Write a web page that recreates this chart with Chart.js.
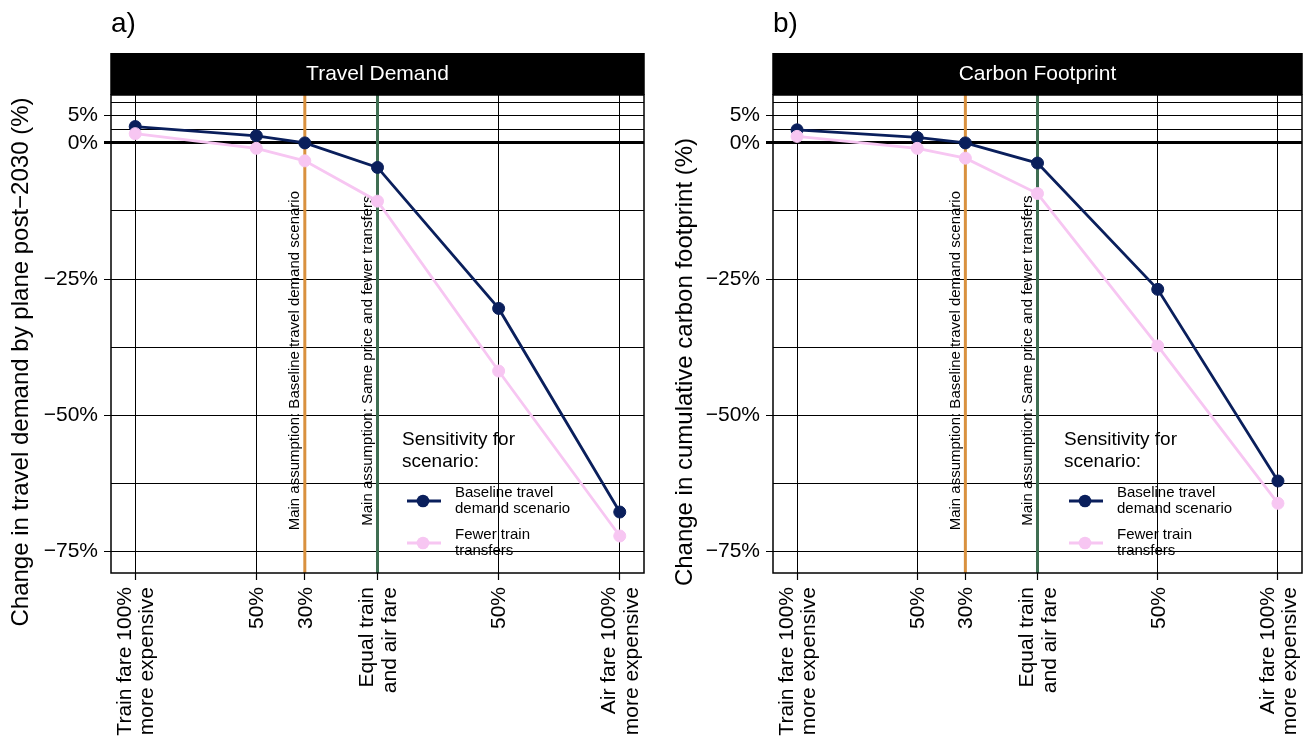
<!DOCTYPE html>
<html><head><meta charset="utf-8">
<script src="https://cdn.jsdelivr.net/npm/chart.js@4.4.1/dist/chart.umd.min.js"></script>
<style>
html,body{margin:0;padding:0;background:#fff;}
#wrap{position:relative;width:1309px;height:742px;overflow:hidden;background:#fff;}
canvas{position:absolute;top:0;}
</style></head><body>
<div id="wrap">
<canvas id="cA" width="655" height="742" style="left:0px"></canvas>
<canvas id="cB" width="654" height="742" style="left:655px"></canvas>
</div>
<script>
// ---- data ----
const xValues = [-100, -50, -30, 0, 50, 100];
const xTickLabels = [["Train fare 100%","more expensive"],["50%"],["30%"],["Equal train","and air fare"],["50%"],["Air fare 100%","more expensive"]];
const yMajorTicks = [-75, -50, -25, 0, 5];
const yMinorTicks = [-62.5, -37.5, -12.5, 2.5, 7.5];
const demandBaseline = [3.0, 1.3, 0, -4.5, -30.4, -67.8];
const demandFewerTransfers = [1.7, -1.0, -3.3, -10.7, -41.9, -72.2];
const carbonBaseline = [2.4, 1.0, 0, -3.7, -26.9, -62.1];
const carbonFewerTransfers = [1.2, -1.0, -2.8, -9.3, -37.3, -66.2];
const seriesNames = [["Baseline travel","demand scenario"],["Fewer train","transfers"]];
const legendTitle = ["Sensitivity for","scenario:"];
const assumptionX = [-30, 0];
const assumptionLabels = ["Main assumption: Baseline travel demand scenario","Main assumption: Same price and fewer transfers"];
const assumptionLabelY = -40;
const panelTitles = ["Travel Demand", "Carbon Footprint"];
const panelTags = ["a)", "b)"];
const yTitles = ["Change in travel demand by plane post\u22122030 (%)", "Change in cumulative carbon footprint (%)"];

// ---- style ----
const NAVY = '#0a1f5c', PINK = '#f7c6f2', ORANGE = '#d9913f', GREEN = '#3f6e52';
const X_MIN = -110, X_MAX = 110, Y_MIN = -79, Y_MAX = 8.8;
const FONT = '"Liberation Sans", Arial, Helvetica, sans-serif';
Chart.defaults.font.family = FONT;

function fmtPct(v){ return (v < 0 ? '\u2212' : '') + Math.abs(v) + '%'; }

function decor(p){
  return {
    id: 'decor' + p.idx,
    beforeDatasetsDraw(chart){
      const ctx = chart.ctx, xs = chart.scales.x, ys = chart.scales.y;
      ctx.save();
      ctx.fillStyle = '#000';
      ctx.font = '15px ' + FONT;
      ctx.textAlign = 'center';
      ctx.textBaseline = 'middle';
      assumptionX.forEach((xv, i) => {
        const px = xs.getPixelForValue(xv) - 9.5;
        const py = ys.getPixelForValue(assumptionLabelY);
        ctx.save();
        ctx.translate(px, py);
        ctx.rotate(-Math.PI / 2);
        ctx.fillText(assumptionLabels[i], 0, 0);
        ctx.restore();
      });
      ctx.restore();
    },
    afterDraw(chart){
      const ctx = chart.ctx, a = chart.chartArea, xs = chart.scales.x;
      ctx.save();
      // panel border
      ctx.strokeStyle = '#000';
      ctx.lineWidth = 1.5;
      ctx.strokeRect(a.left, a.top, a.right - a.left, a.bottom - a.top);
      // strip
      ctx.fillStyle = '#000';
      ctx.fillRect(a.left - 0.75, 53, a.right - a.left + 1.5, a.top - 53);
      ctx.fillStyle = '#fff';
      ctx.font = '21px ' + FONT;
      ctx.textAlign = 'center';
      ctx.textBaseline = 'middle';
      ctx.fillText(panelTitles[p.idx], (a.left + a.right) / 2, 74);
      // tag
      ctx.fillStyle = '#000';
      ctx.font = '28px ' + FONT;
      ctx.textAlign = 'left';
      ctx.textBaseline = 'alphabetic';
      ctx.fillText(panelTags[p.idx], a.left, 32);
      // y title
      ctx.save();
      ctx.font = '24px ' + FONT;
      ctx.textAlign = 'center';
      ctx.textBaseline = 'middle';
      ctx.translate(p.yTitleX, 362);
      ctx.rotate(-Math.PI / 2);
      ctx.fillText(yTitles[p.idx], 0, 0);
      ctx.restore();
      // x tick labels
      ctx.font = '21px ' + FONT;
      ctx.textAlign = 'right';
      ctx.textBaseline = 'middle';
      xValues.forEach((xv, i) => {
        const px = xs.getPixelForValue(xv);
        const lines = xTickLabels[i];
        const n = lines.length;
        lines.forEach((ln, j) => {
          const cx = px + (j - (n - 1) / 2) * 22.5 + 1;
          ctx.save();
          ctx.translate(cx, a.bottom + 14);
          ctx.rotate(-Math.PI / 2);
          ctx.fillText(ln, 0, 0);
          ctx.restore();
        });
      });
      // legend
      const lx = a.left + 291;
      ctx.textAlign = 'left';
      ctx.textBaseline = 'middle';
      ctx.font = '19px ' + FONT;
      legendTitle.forEach((t, i) => ctx.fillText(t, lx, 440 + i * 22));
      const cols = [NAVY, PINK];
      const symY = [501, 543];
      ctx.font = '15px ' + FONT;
      cols.forEach((c, i) => {
        ctx.strokeStyle = c;
        ctx.lineWidth = 2.8;
        ctx.beginPath();
        ctx.moveTo(lx + 5, symY[i]);
        ctx.lineTo(lx + 39, symY[i]);
        ctx.stroke();
        ctx.fillStyle = c;
        ctx.beginPath();
        ctx.arc(lx + 21, symY[i], 6.3, 0, Math.PI * 2);
        ctx.fill();
        ctx.fillStyle = '#000';
        seriesNames[i].forEach((t, j) => ctx.fillText(t, lx + 53, symY[i] - 8 + j * 16));
      });
      ctx.restore();
    }
  };
}

function makePanel(p){
  const pts = arr => xValues.map((x, i) => ({x: x, y: arr[i]}));
  const vline = x => [{x: x, y: Y_MIN}, {x: x, y: Y_MAX}];
  const series = (label, arr, col, order) => ({
    label: label, data: pts(arr), borderColor: col, backgroundColor: col,
    pointBackgroundColor: col, pointBorderColor: col, borderWidth: 2.8,
    pointRadius: 6, pointHoverRadius: 6, pointBorderWidth: 1, order: order, tension: 0
  });
  return new Chart(document.getElementById(p.id), {
    type: 'line',
    data: { datasets: [
      series('Fewer train transfers', p.fewer, PINK, 1),
      series('Baseline travel demand scenario', p.base, NAVY, 2),
      { label: 'assumption1', data: vline(assumptionX[0]), borderColor: ORANGE, borderWidth: 3, pointRadius: 0, order: 3 },
      { label: 'assumption2', data: vline(assumptionX[1]), borderColor: GREEN, borderWidth: 3, pointRadius: 0, order: 3 }
    ]},
    options: {
      responsive: false, animation: false, events: [],
      layout: { padding: { top: 95, right: p.padRight, left: 0, bottom: 0 } },
      plugins: { legend: { display: false }, tooltip: { enabled: false } },
      scales: {
        x: {
          type: 'linear', min: X_MIN, max: X_MAX,
          afterBuildTicks: s => { s.ticks = xValues.map(v => ({value: v})); },
          afterFit: s => { s.height = 169; },
          ticks: { display: false },
          grid: { color: '#000', lineWidth: 1, tickLength: 7, tickColor: '#000', tickWidth: 1.2 },
          border: { display: false }
        },
        y: {
          type: 'linear', min: Y_MIN, max: Y_MAX,
          afterBuildTicks: s => { s.ticks = yMajorTicks.concat(yMinorTicks).sort((a, b) => a - b).map(v => ({value: v})); },
          afterFit: s => { s.width = p.axisW; },
          ticks: { autoSkip: false, callback: v => yMajorTicks.includes(v) ? fmtPct(v) : '', font: { size: 21 }, color: '#000', padding: 6 },
          grid: {
            color: '#000',
            lineWidth: c => (c.tick && c.tick.value === 0) ? 3 : 1,
            tickLength: 7,
            tickColor: c => (c.tick && yMajorTicks.includes(c.tick.value)) ? '#000' : 'rgba(0,0,0,0)'
          },
          border: { display: false }
        }
      }
    },
    plugins: [decor(p)]
  });
}

makePanel({ idx: 0, id: 'cA', base: demandBaseline, fewer: demandFewerTransfers, axisW: 111, padRight: 11, yTitleX: 21 });
makePanel({ idx: 1, id: 'cB', base: carbonBaseline, fewer: carbonFewerTransfers, axisW: 118, padRight: 3, yTitleX: 30 });
</script>
</body></html>
